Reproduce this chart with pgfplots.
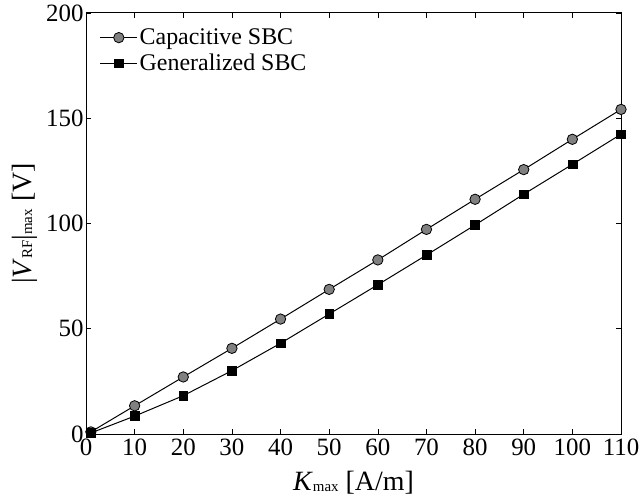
\documentclass[border=0pt]{standalone}
\usepackage{fontspec}
\setmainfont{Liberation Serif}
\usepackage{pgfplots}
\pgfplotsset{compat=1.18}
\definecolor{markgray}{RGB}{128,128,128}
\newcommand{\sub}[1]{\raisebox{-1bp}{\fontsize{15}{15}\selectfont #1}}
\begin{document}
\begin{tikzpicture}
\begin{axis}[
  scale only axis,
  width=535bp, height=421bp,
  at={(0,0)}, anchor=south west,
  xmin=0, xmax=110, ymin=0, ymax=200,
  xtick={0,10,...,110}, ytick={0,50,...,200},
  tick align=inside,
  major tick length=5bp,
  minor tick num=0,
  axis line style={line width=1pt},
  every tick/.style={black, line width=0.6pt},
  /pgf/number format/assume math mode=true,
  tick label style={font=\fontsize{25}{25}\selectfont},
  xticklabel style={yshift=-1bp},
  yticklabel style={xshift=1bp},
  xlabel={\textit{K}\sub{max} [A/m]},
  ylabel={|\textit{V}\sub{RF}|\sub{max} [V]},
  label style={font=\fontsize{28}{28}\selectfont},
  xlabel style={at={(axis description cs:0.5,-0.1335)}, anchor=base},
  ylabel style={at={(axis description cs:-0.1028,0.5)}, anchor=base, rotate=0},
  legend style={draw=none, fill=none, at={(0.02,0.972)}, anchor=north west,
    font=\fontsize{24}{24}\selectfont, row sep=4bp,
    /tikz/every even column/.append style={column sep=2bp}},
  legend cell align=left,
  legend image code/.code={\draw[mark repeat=2,mark phase=2] plot coordinates {(0cm,0cm)(0.65cm,0cm)(1.3cm,0cm)};},
]
\addplot[black, line width=1pt, mark=*, mark size=5.2bp, mark options={fill=markgray, draw=black, line width=0.8pt}]
coordinates {(1,1.0)(10,13.4)(20,27.1)(30,40.7)(40,54.6)(50,68.7)(60,82.7)(70,97.2)(80,111.5)(90,125.6)(100,140.0)(110,154.2)};
\addlegendentry{Capacitive SBC}
\addplot[black, line width=1pt, mark=square*, mark size=4.4bp, mark options={fill=black, draw=black, line width=0.5pt}]
coordinates {(1,0.5)(10,8.5)(20,18.2)(30,30.1)(40,43.1)(50,57.0)(60,70.9)(70,85.0)(80,99.3)(90,113.9)(100,128.1)(110,142.4)};
\addlegendentry{Generalized SBC}
\end{axis}
\pgfresetboundingbox
\path[use as bounding box] (-86bp,-64bp) rectangle (557bp,434bp);
\end{tikzpicture}
\end{document}
